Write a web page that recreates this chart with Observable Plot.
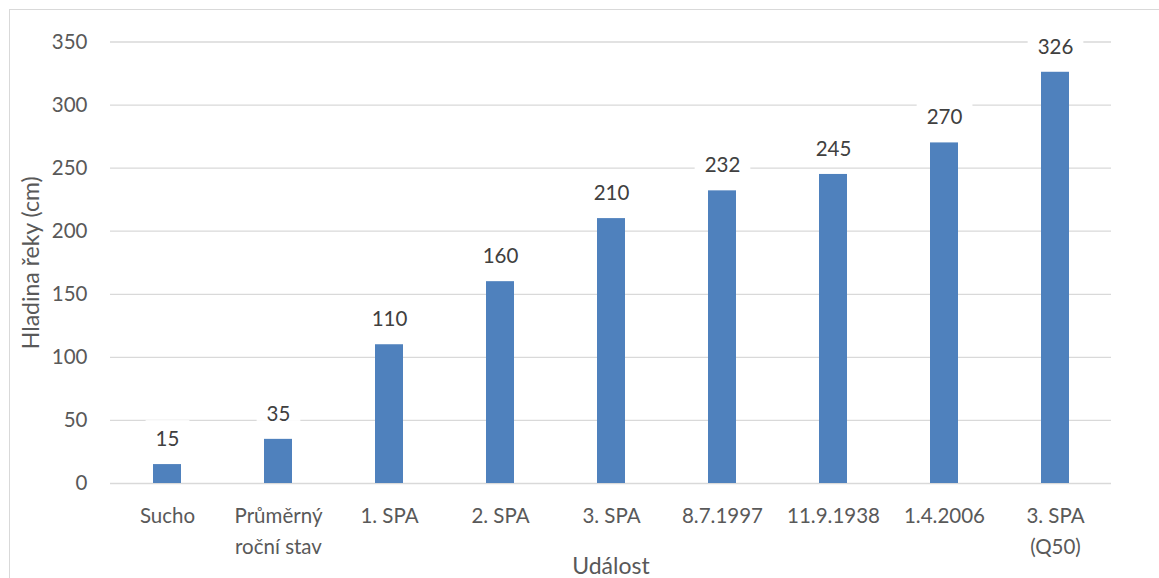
<!DOCTYPE html>
<html>
<head>
<meta charset="utf-8">
<script src="https://cdn.jsdelivr.net/npm/d3@7"></script>
<script src="https://cdn.jsdelivr.net/npm/@observablehq/plot@0.6"></script>
<style>
  html, body { margin: 0; padding: 0; background: #fff; overflow: hidden; }
  #wrap { position: relative; width: 1159px; height: 578px; }
  #border { position: absolute; left: 8.5px; top: 8.5px; width: 1300px; height: 700px;
            border-left: 1.5px solid #d9d9d9; border-top: 1.5px solid #d9d9d9; pointer-events: none; z-index: 2; }
</style>
</head>
<body>
<div id="wrap"><div id="border"></div></div>
<script>
const categories = ["Sucho", "Průměrný\nroční stav", "1. SPA", "2. SPA", "3. SPA", "8.7.1997", "11.9.1938", "1.4.2006", "3. SPA\n(Q50)"];
const values = [15, 35, 110, 160, 210, 232, 245, 270, 326];
const yTicks = [0, 50, 100, 150, 200, 250, 300, 350];
const xTitle = "Událost";
const yTitle = "Hladina řeky (cm)";

const data = categories.map((c, i) => ({category: c, value: values[i]}));

const chart = Plot.plot({
  width: 1159,
  height: 578,
  marginLeft: 110,
  marginRight: 48,
  marginTop: 41.5,
  marginBottom: 95,
  style: {fontFamily: "Lato, 'Open Sans', sans-serif", fontSize: "20px", background: "transparent"},
  x: {domain: categories, paddingInner: 0.75, paddingOuter: 0.375, label: null},
  y: {domain: [0, 350], label: null},
  marks: [
    Plot.gridY(yTicks, {stroke: "#d9d9d9", strokeOpacity: 1, strokeWidth: 1.3}),
    Plot.barY(data, {x: "category", y: "value", fill: "#4f81bd"}),
    Plot.text(data, {x: "category", y: "value", text: d => String(d.value), dy: -25, lineAnchor: "middle", fill: "#404040", fontSize: 20.5}),
    Plot.axisY(yTicks, {tickSize: 0, tickPadding: 23, fill: "#595959", fontSize: 20.5, label: yTitle, labelArrow: "none", labelAnchor: "center", labelOffset: 88}),
    Plot.axisX({tickSize: 0, tickPadding: 18, fill: "#595959", fontSize: 20.5, lineHeight: 1.5, label: xTitle, labelArrow: "none", labelAnchor: "center", labelOffset: 90})
  ]
});

document.getElementById("wrap").appendChild(chart);

// white boxes behind value labels (Excel-style data label fill)
d3.select(chart).selectAll('g[aria-label="text"] text').each(function() {
  const b = this.getBBox();
  d3.select(this.parentNode).insert("rect", () => this)
    .attr("x", b.x - 10).attr("y", b.y - 6)
    .attr("width", b.width + 20).attr("height", b.height + 2)
    .attr("fill", "white")
    .attr("transform", this.getAttribute("transform"));
});
d3.select(chart).selectAll('g[aria-label="y-axis label"] text, g[aria-label="x-axis label"] text')
  .each(function() { this.textContent = this.textContent.replace(/\s*[↑→↓←]\s*/g, ""); })
  .attr("fill", "#595959").style("font-size", "23px");
</script>
</body>
</html>
